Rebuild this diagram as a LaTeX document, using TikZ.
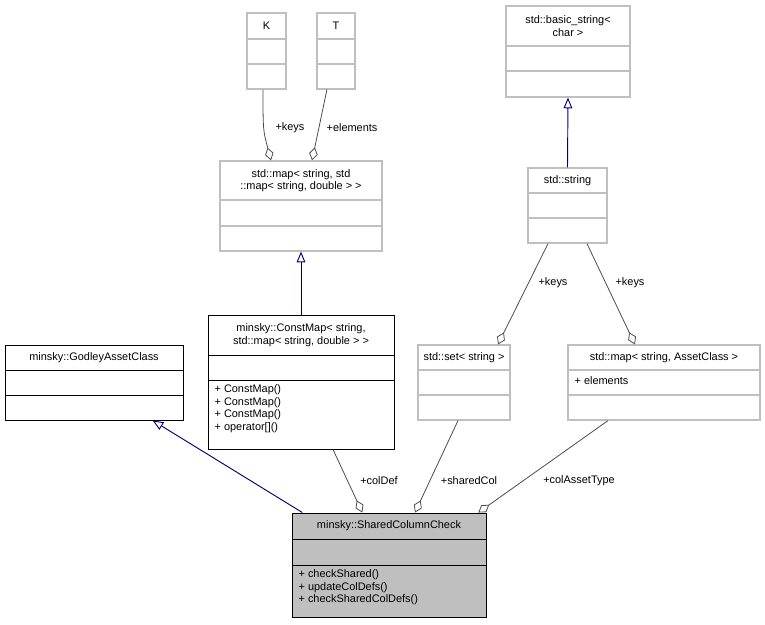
\documentclass[tikz,border=0pt]{standalone}
\usepackage{fontspec}
\setmainfont{Liberation Sans}
\usetikzlibrary{arrows.meta,fit,positioning}

\tikzset{
  gbox/.style={draw=black!25, line width=0.9pt},
  bbox/.style={draw=black, line width=0.7pt},
  sbox/.style={draw=black, line width=0.7pt, fill=black!25},
  txt/.style={font=\fontsize{8.2}{9.4}\selectfont, inner sep=1pt, align=center},
  mem/.style={font=\fontsize{8.2}{9.4}\selectfont, inner sep=1pt, align=left, anchor=north west},
  agg/.style={draw=black!70, line width=0.6pt, {Diamond[open,length=10pt,width=6.5pt]}-},
  inh/.style={draw=blue!45!black, line width=0.7pt, {Triangle[open,length=8pt,width=6.5pt]}-},
  lbl/.style={font=\fontsize{8.2}{9.4}\selectfont, inner sep=1pt}
}
% class box: style, name, x1, y1, x2, y2, first divider, second divider
\newcommand{\umlclass}[8]{%
  \node[#1, fit={(#3,#4) (#5,#6)}, inner sep=0pt] (#2) {};
  \draw[#1] (#3,#7) -- (#5,#7) (#3,#8) -- (#5,#8);
}

\begin{document}
\begin{tikzpicture}[x=0.75pt,y=-0.75pt]
\useasboundingbox (0,0) rectangle (765,625);

% classes
\umlclass{gbox}{K}{247}{13}{286}{89}{39}{64}
\node[txt] at (266.5,26) {K};
\umlclass{gbox}{T}{317}{13}{355}{89}{39}{64}
\node[txt] at (336,26) {T};
\umlclass{gbox}{bstr}{506}{6}{630}{97}{46}{71}
\node[txt] at (568,26) {std::basic\_string\textless\\char \textgreater};
\umlclass{gbox}{map}{220}{161}{382}{251}{200}{226}
\node[txt] at (301,180.5) {std::map\textless{} string, std\\::map\textless{} string, double \textgreater{} \textgreater};
\umlclass{gbox}{str}{528}{168}{607}{243}{193}{218}
\node[txt] at (567.5,180.5) {std::string};
\umlclass{bbox}{god}{5}{345}{183}{420}{370}{395}
\node[txt] at (94,357.5) {minsky::GodleyAssetClass};
\umlclass{bbox}{cmap}{208}{315}{394}{449}{355}{380}
\node[txt] at (301,335) {minsky::ConstMap\textless{} string,\\std::map\textless{} string, double \textgreater{} \textgreater};
\node[mem] at (213,383) {+ ConstMap()\\+ ConstMap()\\+ ConstMap()\\+ operator[]()};
\umlclass{gbox}{set}{418}{345}{510}{420}{370}{395}
\node[txt] at (464,357.5) {std::set\textless{} string \textgreater};
\umlclass{gbox}{amap}{568}{345}{760}{420}{370}{395}
\node[txt] at (664,357.5) {std::map\textless{} string, AssetClass \textgreater};
\node[mem] at (573,374.5) {+ elements};
\umlclass{sbox}{scc}{292}{513}{486}{617}{539}{565}
\node[txt] at (389,526) {minsky::SharedColumnCheck};
\node[mem] at (297,568) {+ checkShared()\\+ updateColDefs()\\+ checkSharedColDefs()};

% relations
\draw[agg] ([xshift=-22.5pt]map.north) .. controls (263,130) .. ([xshift=-2.6pt]K.south);
\node[lbl] at (290,128) {+keys};
\draw[agg] ([xshift=8.3pt]map.north) -- ([xshift=-6.8pt]T.south);
\node[lbl] at (352,128) {+elements};
\draw[inh] (map.south) -- (cmap.north);
\draw[inh] (bstr.south) -- (str.north);
\draw[agg] ([xshift=25.5pt]set.north) -- ([xshift=-14.6pt]str.south);
\node[lbl] at (553,283) {+keys};
\draw[agg] ([xshift=-21.8pt]amap.north) -- ([xshift=14.6pt]str.south);
\node[lbl] at (630,283) {+keys};
\draw[inh] ([xshift=44pt]god.south) -- ([xshift=-65pt]scc.north);
\draw[agg] ([xshift=-20pt]scc.north) -- ([xshift=24pt]cmap.south);
\node[lbl] at (379,481) {+colDef};
\draw[agg] ([xshift=19.5pt]scc.north) -- ([xshift=-4.5pt]set.south);
\node[lbl] at (469,481) {+sharedCol};
\draw[agg] ([xshift=67pt]scc.north) -- ([xshift=-42pt]amap.south);
\node[lbl] at (579,481) {+colAssetType};
\end{tikzpicture}
\end{document}
